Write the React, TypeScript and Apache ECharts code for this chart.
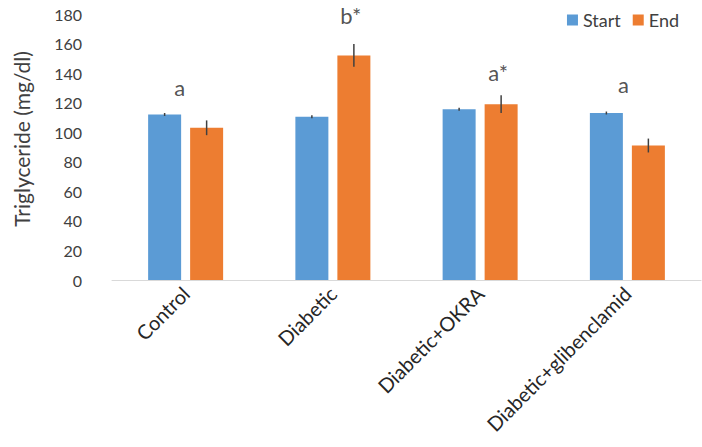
import React, { useEffect, useRef } from "react";
import * as echarts from "echarts";

const categories = ["Control", "Diabetic", "Diabetic+OKRA", "Diabetic+glibenclamid"];
const startValues = [112, 110.5, 115.5, 113];
const startErrors = [1, 1, 1, 1];
const endValues = [103, 152, 119, 91];
const endErrors = [5, 7.7, 6, 4.7];
const annotationTexts = ["a", "b*", "a*", "a"];
const annotationValues = [130.5, 179, 140.5, 132];
const annotationOffsets = [-6, 18, 18, -4];
const yTicks = { min: 0, max: 180, interval: 20 };

const FONT = "Lato, 'Open Sans', sans-serif";

export default function App() {
  const ref = useRef<HTMLDivElement>(null);
  useEffect(() => {
    document.body.style.margin = "0";
    const chart = echarts.init(ref.current!, null, { renderer: "svg" });
    const barW = 33;
    const gapPx = 9;
    const half = (barW + gapPx) / 2;
    const errRender = (offset: number) => (params: any, api: any) => {
      const cx = api.coord([api.value(0), 0])[0] + offset;
      const lo = api.coord([api.value(0), api.value(1)])[1];
      const hi = api.coord([api.value(0), api.value(2)])[1];
      return {
        type: "line",
        shape: { x1: cx, y1: lo, x2: cx, y2: hi },
        style: { stroke: "#404040", lineWidth: 1.5 },
      };
    };
    chart.setOption({
      animation: false,
      textStyle: { fontFamily: FONT },
      legend: {
        data: ["Start", "End"],
        right: 18,
        top: 6,
        itemWidth: 11,
        itemHeight: 11,
        itemGap: 12,
        icon: "rect",
        textStyle: { fontSize: 18, color: "#404040", fontFamily: FONT },
      },
      grid: { left: 112, right: 1, top: 14, bottom: 167 },
      xAxis: {
        type: "category",
        data: categories,
        axisTick: { show: false },
        axisLine: { lineStyle: { color: "#D9D9D9", width: 1 } },
        axisLabel: { rotate: 45, fontSize: 20, color: "#262626", margin: 10, fontFamily: FONT },
      },
      yAxis: {
        type: "value",
        min: yTicks.min,
        max: yTicks.max,
        interval: yTicks.interval,
        splitLine: { show: false },
        axisLine: { show: false },
        axisTick: { show: false },
        axisLabel: { fontSize: 16, color: "#404040", margin: 30, fontFamily: FONT },
        name: "Triglyceride (mg/dl)",
        nameLocation: "middle",
        nameGap: 80,
        nameTextStyle: { fontSize: 21, color: "#404040", fontFamily: FONT, padding: [0, 0, 0, 16] },
      },
      series: [
        {
          name: "Start",
          type: "bar",
          data: startValues,
          barWidth: barW,
          barGap: (gapPx / barW) * 100 + "%",
          itemStyle: { color: "#5B9BD5" },
        },
        {
          name: "End",
          type: "bar",
          data: endValues,
          barWidth: barW,
          itemStyle: { color: "#ED7D31" },
        },
        {
          type: "custom",
          renderItem: errRender(-half),
          data: startValues.map((v, i) => [i, v - startErrors[i], v + startErrors[i]]),
          z: 10,
        },
        {
          type: "custom",
          renderItem: errRender(half),
          data: endValues.map((v, i) => [i, v - endErrors[i], v + endErrors[i]]),
          z: 10,
        },
        {
          type: "scatter",
          symbolSize: 0,
          data: annotationValues.map((v, i) => ({
            value: [i, v],
            label: {
              show: true,
              position: "inside",
              formatter: annotationTexts[i],
              offset: [annotationOffsets[i], 0],
              fontSize: 22,
              color: "#262626",
              fontFamily: FONT,
            },
          })),
          z: 11,
        },
      ],
    });
    return () => chart.dispose();
  }, []);
  return <div ref={ref} style={{ width: 702, height: 447 }} />;
}
